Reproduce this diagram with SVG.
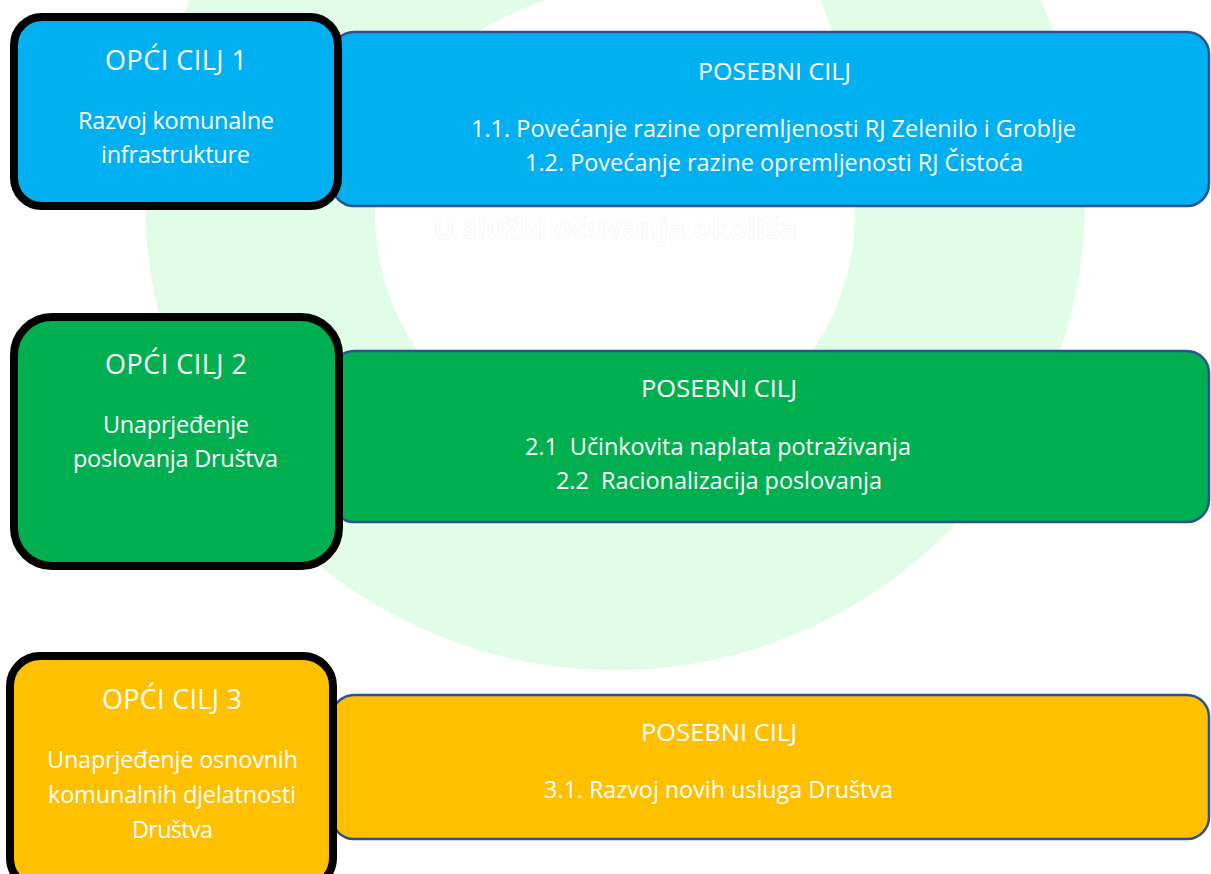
<svg xmlns="http://www.w3.org/2000/svg" width="1211" height="874" viewBox="0 0 1211 874">
<style>
.t{font-family:"Open Sans","Liberation Sans",sans-serif;fill:#ffffff;text-anchor:middle}
.h{font-size:27px}
.b{font-size:23.5px}
.p{font-size:24.5px}
.gen{stroke:#000000;stroke-width:8}
.pos{stroke:#2F528F;stroke-width:2.5}
.blue{fill:#00B0F0}
.green{fill:#00B050}
.yellow{fill:#FFC000}
.wm{font-family:"Open Sans","Liberation Sans",sans-serif;font-weight:bold;font-size:30px;fill:#fefefe;stroke:#f6f6f6;stroke-width:0.7;text-anchor:middle}
</style>
<rect x="0" y="0" width="1211" height="874" fill="#ffffff"/>
<g id="background">
<path fill="#E2FDE7" fill-rule="evenodd" d="M145 200 A470 470 0 1 0 1085 200 A470 470 0 1 0 145 200 Z M615 460 C480 460 375 340 375 215 C375 110 440 25 585 -12 L815 -12 C850 60 855 150 855 215 C855 340 750 460 615 460 Z"/>
<text class="wm" x="615" y="239" textLength="364" lengthAdjust="spacingAndGlyphs">U službi očuvanja okoliša</text>
</g>
<g id="connectors"></g>
<g id="posebni1">
<rect class="blue pos" x="332" y="32" width="877" height="174" rx="22"/>
<text class="t p" x="774.5" y="80" textLength="153" lengthAdjust="spacingAndGlyphs">POSEBNI CILJ</text>
<text class="t b" x="773.5" y="137" textLength="605" lengthAdjust="spacingAndGlyphs">1.1. Povećanje razine opremljenosti RJ Zelenilo i Groblje</text>
<text class="t b" x="774" y="171" textLength="498" lengthAdjust="spacingAndGlyphs">1.2. Povećanje razine opremljenosti RJ Čistoća</text>
</g>
<g id="posebni2">
<rect class="green pos" x="332" y="351" width="877" height="171" rx="22"/>
<text class="t p" x="719" y="397" textLength="156" lengthAdjust="spacingAndGlyphs">POSEBNI CILJ</text>
<text class="t b" x="718" y="455" textLength="386" xml:space="preserve">2.1  Učinkovita naplata potraživanja</text>
<text class="t b" x="719" y="489" textLength="326" xml:space="preserve">2.2  Racionalizacija poslovanja</text>
</g>
<g id="posebni3">
<rect class="yellow pos" x="332" y="695" width="877" height="144" rx="22"/>
<text class="t p" x="719" y="741" textLength="156" lengthAdjust="spacingAndGlyphs">POSEBNI CILJ</text>
<text class="t b" x="718.5" y="798" textLength="349" lengthAdjust="spacingAndGlyphs">3.1. Razvoj novih usluga Društva</text>
</g>
<g id="opci1">
<rect class="blue gen" x="14" y="17" width="324" height="189" rx="28"/>
<text class="t h" x="176" y="69.5" textLength="142">OPĆI CILJ 1</text>
<text class="t b" x="176" y="129" textLength="196">Razvoj komunalne</text>
<text class="t b" x="175.5" y="163" textLength="149">infrastrukture</text>
</g>
<g id="opci2">
<rect class="green gen" x="14" y="317" width="325" height="249" rx="38"/>
<text class="t h" x="176" y="374" textLength="142">OPĆI CILJ 2</text>
<text class="t b" x="176" y="433" textLength="146">Unaprjeđenje</text>
<text class="t b" x="175.5" y="467" textLength="205">poslovanja Društva</text>
</g>
<g id="opci3">
<rect class="yellow gen" x="10" y="656" width="323" height="232" rx="30"/>
<text class="t h" x="172" y="709" textLength="140">OPĆI CILJ 3</text>
<text class="t b" x="172.5" y="768" textLength="251">Unaprjeđenje osnovnih</text>
<text class="t b" x="172" y="803" textLength="248">komunalnih djelatnosti</text>
<text class="t b" x="172.5" y="838" textLength="81">Društva</text>
</g>
</svg>
